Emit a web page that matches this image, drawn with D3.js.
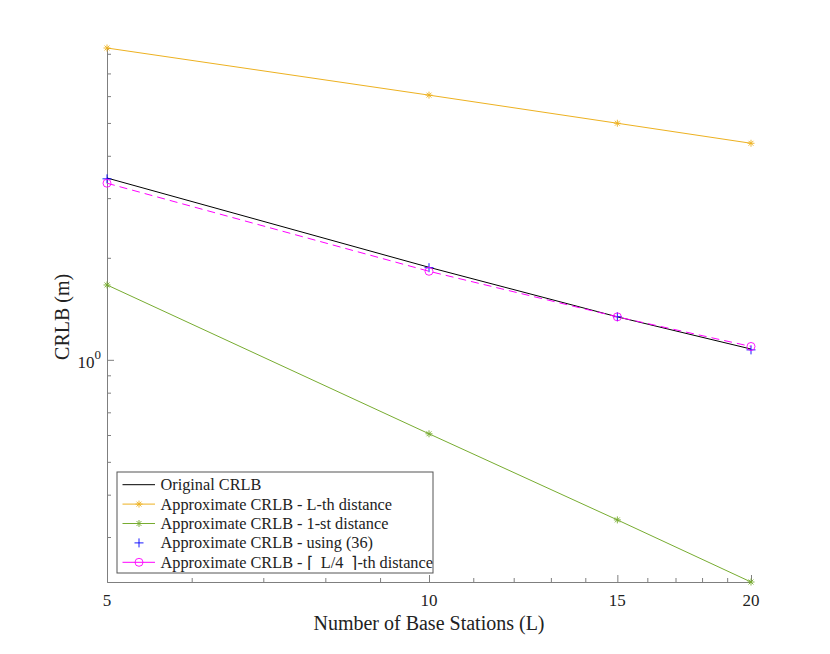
<!DOCTYPE html>
<html>
<head>
<meta charset="utf-8">
<script src="https://cdn.jsdelivr.net/npm/d3@7"></script>
<style>
  body { margin: 0; background: #fff; }
  text { font-family: "Liberation Serif", "Times New Roman", serif; fill: #222; }
</style>
</head>
<body>
<div id="chart"></div>
<script>
// Data
var stations = [5, 10, 15, 20];
var original = [3.44, 1.875, 1.339, 1.076];
var lthDist = [8.32, 6.04, 4.99, 4.355];
var firstDist = [1.663, 0.605, 0.337, 0.221];
var using36 = [3.42, 1.87, 1.34, 1.07];
var quarterDist = [3.32, 1.825, 1.339, 1.095];
var xTickLabels = [5, 10, 15, 20];

var svgWidth = 830;
var svgHeight = 654;
var margin = { top: 48, right: 79, bottom: 72, left: 107 };
var width = svgWidth - margin.left - margin.right;
var height = svgHeight - margin.top - margin.bottom;

var svg = d3.select('#chart')
    .append('svg')
    .attr('width', svgWidth)
    .attr('height', svgHeight);
var chartGroup = svg.append('g')
    .attr('transform', `translate(${margin.left}, ${margin.top})`);

var allValues = original.concat(lthDist, firstDist, using36, quarterDist);
var xScale = d3.scaleLog()
    .domain([5, 20])
    .range([0, width]);
var yScale = d3.scaleLog()
    .domain(d3.extent(allValues))
    .range([height, 0]);

var axisColor = '#7f7f7f';

// x axis: ticks point inward
var xMinor = d3.range(5, 21);
var bottomAxis = d3.axisBottom(xScale)
    .tickValues(xMinor)
    .tickSize(-4)
    .tickFormat('');
chartGroup.append('g')
    .attr('transform', `translate(0, ${height})`)
    .call(bottomAxis)
    .call(g => g.select('.domain').attr('stroke', axisColor))
    .call(g => g.selectAll('.tick line')
        .attr('stroke', axisColor)
        .attr('y2', d => xTickLabels.indexOf(d) >= 0 ? -7 : -4));

chartGroup.append('g').selectAll('text')
    .data(xTickLabels)
    .enter()
    .append('text')
    .attr('x', d => xScale(d))
    .attr('y', height + 24)
    .attr('text-anchor', 'middle')
    .attr('font-size', 17)
    .text(d => d);

// y axis: minor ticks, one labelled decade
var yMinor = [0.3, 0.4, 0.5, 0.6, 0.7, 0.8, 0.9, 1, 2, 3, 4, 5, 6, 7, 8];
var leftAxis = d3.axisLeft(yScale)
    .tickValues(yMinor)
    .tickSize(-4)
    .tickFormat('');
chartGroup.append('g')
    .call(leftAxis)
    .call(g => g.select('.domain').attr('stroke', axisColor))
    .call(g => g.selectAll('.tick line')
        .attr('stroke', axisColor)
        .attr('x2', d => d === 1 ? 7 : 4));

var decade = chartGroup.append('text')
    .attr('x', -6)
    .attr('y', yScale(1) + 8)
    .attr('text-anchor', 'end')
    .attr('font-size', 17);
decade.append('tspan').text('10');
decade.append('tspan').attr('dy', -9).attr('font-size', 13).text('0');

// axis titles
chartGroup.append('text')
    .attr('transform', 'rotate(-90)')
    .attr('x', -(yScale(1) - 43))
    .attr('y', -38)
    .attr('text-anchor', 'middle')
    .attr('font-size', 20)
    .text('CRLB (m)');
chartGroup.append('text')
    .attr('x', xScale(10))
    .attr('y', height + 48)
    .attr('text-anchor', 'middle')
    .attr('font-size', 20)
    .text('Number of Base Stations (L)');

// series
var series = [
    { name: 'Original CRLB', values: original, color: '#000000', line: true, dash: null, marker: null },
    { name: 'Approximate CRLB - L-th distance', values: lthDist, color: '#EDB120', line: true, dash: null, marker: 'star' },
    { name: 'Approximate CRLB - 1-st distance', values: firstDist, color: '#77AC30', line: true, dash: null, marker: 'star' },
    { name: 'Approximate CRLB - using (36)', values: using36, color: '#0000FF', line: false, dash: null, marker: 'plus' },
    { name: 'Approximate CRLB - \u2308\u2002L/4\u2002\u2309-th distance', values: quarterDist, color: '#FF00FF', line: true, dash: '8,5', marker: 'circle' }
];

var lineGen = d3.line()
    .x(d => xScale(d[0]))
    .y(d => yScale(d[1]));

function drawMarker(g, type, color) {
    if (type === 'star') {
        var s = 3.5;
        g.append('path')
            .attr('d', `M${-s},0H${s}M0,${-s}V${s}M${-s * 0.7},${-s * 0.7}L${s * 0.7},${s * 0.7}M${-s * 0.7},${s * 0.7}L${s * 0.7},${-s * 0.7}`)
            .attr('stroke', color).attr('stroke-width', 0.9).attr('fill', 'none');
    } else if (type === 'plus') {
        var p = 4.5;
        g.append('path')
            .attr('d', `M${-p},0H${p}M0,${-p}V${p}`)
            .attr('stroke', color).attr('stroke-width', 0.9).attr('fill', 'none');
    } else if (type === 'circle') {
        g.append('circle')
            .attr('r', 4)
            .attr('stroke', color).attr('stroke-width', 0.9).attr('fill', 'none');
    }
}

var plotGroup = chartGroup.append('g');
series.forEach(function(s) {
    var pts = stations.map((x, i) => [x, s.values[i]]);
    if (s.line) {
        plotGroup.append('path')
            .datum(pts)
            .attr('d', lineGen)
            .attr('fill', 'none')
            .attr('stroke', s.color)
            .attr('stroke-width', 1)
            .attr('stroke-dasharray', s.dash);
    }
    if (s.marker) {
        pts.forEach(function(p) {
            var m = plotGroup.append('g')
                .attr('transform', `translate(${xScale(p[0])}, ${yScale(p[1])})`);
            drawMarker(m, s.marker, s.color);
        });
    }
});

// legend
var legend = chartGroup.append('g')
    .attr('transform', `translate(10, ${472 - margin.top})`);
legend.append('rect')
    .attr('width', 316)
    .attr('height', 101)
    .attr('fill', '#fff')
    .attr('stroke', '#555')
    .attr('stroke-width', 1);
series.forEach(function(s, i) {
    var row = legend.append('g')
        .attr('transform', `translate(0, ${12.7 + i * 19.4})`);
    if (s.line) {
        row.append('line')
            .attr('x1', 5.5).attr('x2', 38)
            .attr('stroke', s.color)
            .attr('stroke-width', 1);
    }
    if (s.marker) {
        var m = row.append('g').attr('transform', 'translate(22, 0)');
        drawMarker(m, s.marker, s.color);
    }
    row.append('text')
        .attr('x', 43.5)
        .attr('y', 5.5)
        .attr('font-size', 16.3)
        .text(s.name);
});
</script>
</body>
</html>
